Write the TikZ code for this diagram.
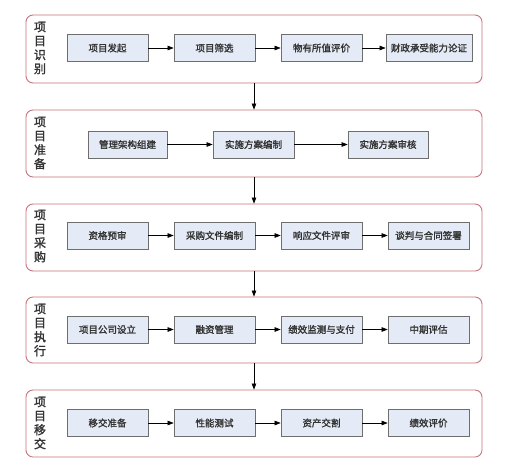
\documentclass[tikz,border=0pt]{standalone}
\usepackage{fontspec}
\newfontfamily\cjk{Noto Sans CJK SC}[AutoFakeBold=1.6]
\usetikzlibrary{arrows.meta}
\definecolor{stageRed}{HTML}{C9747C}
\definecolor{boxBlue}{HTML}{E5EBF6}
\definecolor{boxLine}{HTML}{6E6E6E}
\definecolor{txt}{HTML}{333333}
\begin{document}
\begin{tikzpicture}[x=1pt,y=-1pt,
  stage/.style={draw=stageRed, line width=0.9pt, rounded corners=7pt, fill=white, minimum width=456pt, inner sep=0pt},
  stepbox/.style={draw=boxLine, line width=0.7pt, fill=boxBlue, minimum width=81pt, minimum height=27pt, inner sep=0pt, text=txt, font=\cjk\fontsize{9.5}{10}\selectfont\bfseries},
  lab/.style={align=center, text=txt, inner sep=0pt, font=\cjk\fontsize{12}{14}\selectfont\bfseries},
  flow/.style={draw=black, line width=0.6pt, -{Triangle[length=6pt,width=4.5pt]}}]
\useasboundingbox (0,0) rectangle (510,472);
\fill[white] (0,0) rectangle (510,472);
% stages
\node[stage, minimum height=68pt] (s1) at (254,49) {};
\node[stage, minimum height=67pt] (s2) at (254,143.5) {};
\node[stage, minimum height=67pt] (s3) at (254,237.5) {};
\node[stage, minimum height=66pt] (s4) at (254,330) {};
\node[stage, minimum height=67pt] (s5) at (254,423.5) {};
% labels
\node[lab] (l1) at (40,48) {项\\目\\识\\别};
\node[lab] (l2) at (40,143) {项\\目\\准\\备};
\node[lab] (l3) at (40,236) {项\\目\\采\\购};
\node[lab] (l4) at (40,330) {项\\目\\执\\行};
\node[lab] (l5) at (40,423) {项\\目\\移\\交};
% stage 1
\node[stepbox] (a1) at (107.5,48) {项目发起};
\node[stepbox] (a2) at (214.5,48) {项目筛选};
\node[stepbox] (a3) at (321.5,48) {物有所值评价};
\node[stepbox, minimum width=86pt] (a4) at (429,48) {财政承受能力论证};
% stage 2
\node[stepbox, minimum width=79pt] (b1) at (127.5,144.5) {管理架构组建};
\node[stepbox] (b2) at (253.5,144.5) {实施方案编制};
\node[stepbox, minimum width=80pt] (b3) at (388,144.5) {实施方案审核};
% stage 3
\node[stepbox] (c1) at (107.5,235.5) {资格预审};
\node[stepbox] (c2) at (214.5,235.5) {采购文件编制};
\node[stepbox] (c3) at (321.5,235.5) {响应文件评审};
\node[stepbox] (c4) at (428.5,235.5) {谈判与合同签署};
% stage 4
\node[stepbox] (d1) at (107.5,329.5) {项目公司设立};
\node[stepbox] (d2) at (214.5,329.5) {融资管理};
\node[stepbox] (d3) at (321.5,329.5) {绩效监测与支付};
\node[stepbox] (d4) at (428.5,329.5) {中期评估};
% stage 5
\node[stepbox] (e1) at (107.5,423) {移交准备};
\node[stepbox] (e2) at (214.5,423) {性能测试};
\node[stepbox] (e3) at (321.5,423) {资产交割};
\node[stepbox] (e4) at (428.5,423) {绩效评价};
% horizontal arrows
\draw[flow] (a1) -- (a2);
\draw[flow] (a2) -- (a3);
\draw[flow] (a3) -- (a4);
\draw[flow] (b1) -- (b2);
\draw[flow] (b2) -- (b3);
\draw[flow] (c1) -- (c2);
\draw[flow] (c2) -- (c3);
\draw[flow] (c3) -- (c4);
\draw[flow] (d1) -- (d2);
\draw[flow] (d2) -- (d3);
\draw[flow] (d3) -- (d4);
\draw[flow] (e1) -- (e2);
\draw[flow] (e2) -- (e3);
\draw[flow] (e3) -- (e4);
% vertical arrows
\draw[flow] (s1.south) -- (s2.north);
\draw[flow] (s2.south) -- (s3.north);
\draw[flow] (s3.south) -- (s4.north);
\draw[flow] (s4.south) -- (s5.north);
\end{tikzpicture}
\end{document}
